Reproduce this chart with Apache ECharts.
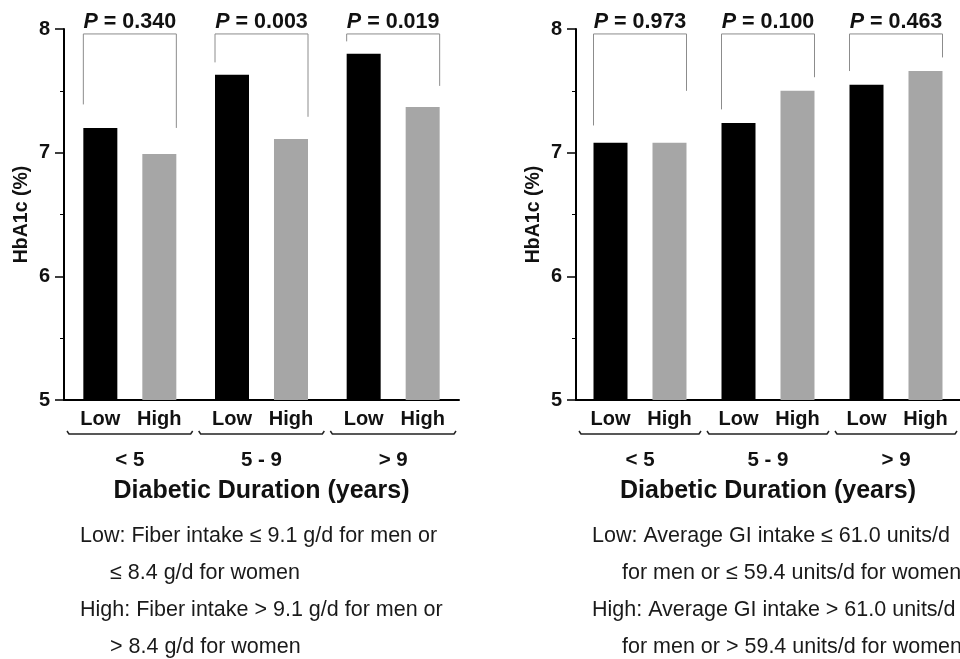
<!DOCTYPE html>
<html>
<head>
<meta charset="utf-8">
<script src="https://cdn.jsdelivr.net/npm/echarts@6/dist/echarts.min.js"></script>
<style>
  html, body { margin: 0; padding: 0; background: #fff; }
  #chart { width: 960px; height: 659px; }
</style>
</head>
<body>
<div id="chart"></div>
<script>
// ---------- data ----------
const groups = ['< 5', '5 - 9', '> 9'];
const levels = ['Low', 'High'];
const yTicks = [5, 6, 7, 8];

// Left panel: fiber intake
const fiberLow  = [7.20, 7.63, 7.80];
const fiberHigh = [6.99, 7.11, 7.37];
const fiberP    = ['0.340', '0.003', '0.019'];
const fiberBracketTop   = [7.96, 7.96, 7.96];
const fiberBracketLeft  = [7.39, 7.73, 7.90];
const fiberBracketRight = [7.20, 7.29, 7.54];

// Right panel: average GI intake
const giLow  = [7.08, 7.24, 7.55];
const giHigh = [7.08, 7.50, 7.66];
const giP    = ['0.973', '0.100', '0.463'];
const giBracketTop   = [7.96, 7.96, 7.96];
const giBracketLeft  = [7.22, 7.35, 7.66];
const giBracketRight = [7.50, 7.61, 7.77];

const yAxisName = 'HbA1c (%)';
const xAxisName = 'Diabetic Duration (years)';
const fiberNotes = [
  'Low: Fiber intake \u2264 9.1 g/d for men or',
  '\u2264 8.4 g/d for women',
  'High: Fiber intake > 9.1 g/d for men or',
  '> 8.4 g/d for women'
];
const giNotes = [
  'Low: Average GI intake \u2264 61.0 units/d',
  'for men or \u2264 59.4 units/d for women',
  'High: Average GI intake > 61.0 units/d',
  'for men or > 59.4 units/d for women'
];

// ---------- style ----------
const FONT = '"Liberation Sans", Arial, sans-serif';
const BAR_W = 34;
const BAR_GAP = 25;
const BLACK = '#000000';
const GREY = '#a6a6a6';
const TEXT = '#111111';

const chart = echarts.init(document.getElementById('chart'), null, { renderer: 'canvas' });

function xAxisFor(gridIndex) {
  return {
    type: 'category',
    gridIndex,
    data: groups,
    axisLine: { lineStyle: { color: BLACK, width: 2 } },
    axisTick: { show: false },
    axisLabel: {
      interval: 0,
      margin: 0,
      formatter: v => '{lo|' + levels[0] + '}{hi|' + levels[1] + '}\n{g|' + v + '}',
      rich: {
        lo: { width: 59, align: 'center', fontSize: 20, fontWeight: 'bold', lineHeight: 38, color: TEXT, fontFamily: FONT },
        hi: { width: 59, align: 'center', fontSize: 20, fontWeight: 'bold', lineHeight: 38, color: TEXT, fontFamily: FONT },
        g:  { align: 'center', fontSize: 20.5, fontWeight: 'bold', lineHeight: 44, color: TEXT, fontFamily: FONT }
      }
    },
    name: xAxisName,
    nameLocation: 'middle',
    nameGap: 79,
    nameTextStyle: { fontSize: 25, fontWeight: 'bold', color: TEXT, fontFamily: FONT }
  };
}

function yAxisFor(gridIndex) {
  return {
    type: 'value',
    gridIndex,
    min: yTicks[0],
    max: yTicks[yTicks.length - 1],
    interval: 1,
    splitLine: { show: false },
    axisLine: { show: true, lineStyle: { color: BLACK, width: 2 } },
    axisTick: { show: true, length: 9, lineStyle: { color: BLACK, width: 1.5 } },
    minorTick: { show: true, splitNumber: 2, length: 4, lineStyle: { color: BLACK, width: 1 } },
    axisLabel: { margin: 14, fontSize: 20, fontWeight: 'bold', color: TEXT, fontFamily: FONT },
    name: yAxisName,
    nameLocation: 'middle',
    nameRotate: 90,
    nameGap: 32,
    nameTextStyle: { fontSize: 19.5, fontWeight: 'bold', color: TEXT, fontFamily: FONT }
  };
}

function bracketSeries(idx, tops, lefts, rights, pvals) {
  return {
    type: 'custom',
    xAxisIndex: idx,
    yAxisIndex: idx,
    silent: true,
    z: 5,
    data: groups.map((g, i) => [i, tops[i], lefts[i], rights[i]]),
    encode: { x: 0, y: [1, 2, 3] },
    renderItem: function (params, api) {
      const i = api.value(0);
      const topPt = api.coord([i, api.value(1)]);
      const cx = topPt[0];
      const yt = topPt[1];
      const yl = api.coord([i, api.value(2)])[1];
      const yr = api.coord([i, api.value(3)])[1];
      const base = api.coord([i, yTicks[0]])[1];
      const bw = api.size([1, 0])[0];
      const half = BAR_W + BAR_GAP / 2;
      const xl = cx - half, xr = cx + half;
      const bh = bw / 2 - 3;
      const p = pvals[params.dataIndex];
      return {
        type: 'group',
        children: [
          {
            type: 'polyline',
            shape: { points: [[xl, yl], [xl, yt], [xr, yt], [xr, yr]] },
            style: { stroke: '#8c8c8c', fill: null, lineWidth: 1 }
          },
          {
            type: 'text',
            x: cx, y: yt - 12,
            style: {
              text: '{i|P}{n| = ' + p + '}',
              align: 'center',
              verticalAlign: 'middle',
              rich: {
                i: { fontStyle: 'italic', fontWeight: 'bold', fontSize: 21.5, fontFamily: FONT, fill: TEXT },
                n: { fontWeight: 'bold', fontSize: 21.5, fontFamily: FONT, fill: TEXT }
              }
            }
          },
          {
            type: 'polyline',
            shape: { points: [[cx - bh, base + 31], [cx - bh + 2, base + 34], [cx + bh - 2, base + 34], [cx + bh, base + 31]] },
            style: { stroke: '#222', fill: null, lineWidth: 1.5 }
          }
        ]
      };
    }
  };
}

function barSeries(idx, name, data, color) {
  return {
    type: 'bar',
    name,
    xAxisIndex: idx,
    yAxisIndex: idx,
    data,
    barWidth: BAR_W,
    barGap: (BAR_GAP / BAR_W * 100).toFixed(1) + '%',
    itemStyle: { color },
    silent: true
  };
}

function notes(lines, x, indentX) {
  const ys = [536, 573, 610, 647];
  return lines.map((t, i) => ({
    type: 'text',
    x: i % 2 === 0 ? x : indentX,
    y: ys[i],
    style: { text: t, fontSize: 21.5, fontFamily: FONT, fill: '#1a1a1a', verticalAlign: 'middle', align: 'left' }
  }));
}

const option = {
  animation: false,
  backgroundColor: '#ffffff',
  textStyle: { fontFamily: FONT },
  grid: [
    { left: 64, top: 29, width: 395, height: 371 },
    { left: 576, top: 29, width: 397, height: 371 }
  ],
  xAxis: [xAxisFor(0), xAxisFor(1)],
  yAxis: [yAxisFor(0), yAxisFor(1)],
  series: [
    barSeries(0, levels[0], fiberLow, BLACK),
    barSeries(0, levels[1], fiberHigh, GREY),
    bracketSeries(0, fiberBracketTop, fiberBracketLeft, fiberBracketRight, fiberP),
    barSeries(1, levels[0], giLow, BLACK),
    barSeries(1, levels[1], giHigh, GREY),
    bracketSeries(1, giBracketTop, giBracketLeft, giBracketRight, giP)
  ],
  graphic: notes(fiberNotes, 80, 110).concat(notes(giNotes, 592, 622))
};
chart.setOption(option);
</script>
</body>
</html>
